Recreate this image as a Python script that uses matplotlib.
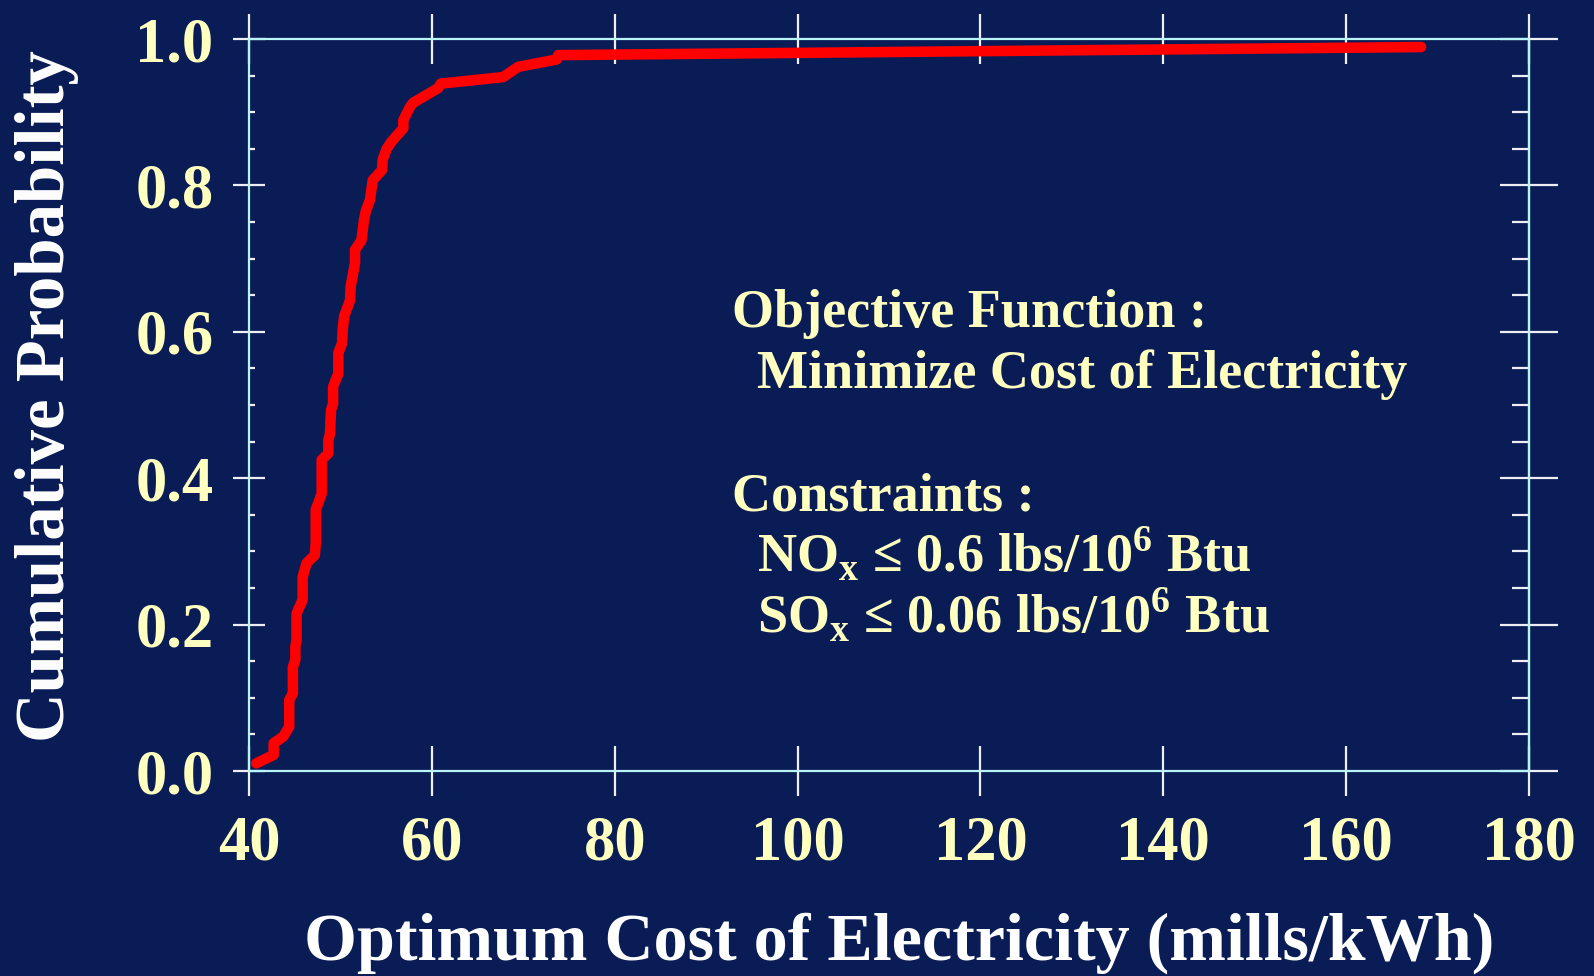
import matplotlib
matplotlib.use("Agg")
import matplotlib.pyplot as plt
from matplotlib.ticker import MultipleLocator

# CDF of optimum cost of electricity
cost = [40.8, 42.7, 42.7, 43.75, 44.4, 44.4, 44.8, 44.8, 45.07, 45.07, 45.2, 45.2,
        45.87, 45.87, 46.3, 47.2, 47.3, 47.3, 47.58, 47.95, 47.95, 48.68, 48.68,
        48.86, 48.97, 49.2, 49.2, 49.77, 49.77, 50.17, 50.25, 50.4, 51.05, 51.12,
        51.6, 51.6, 52.3, 52.58, 52.8, 53.23, 53.53, 53.9, 54.55, 54.62, 55.06,
        55.6, 56.88, 56.88, 57.6, 57.97, 60.7, 60.97, 67.8, 69.45, 73.65, 73.83,
        168.2]
prob = [0.0105, 0.022, 0.038, 0.047, 0.0605, 0.097, 0.106, 0.142, 0.152, 0.170,
        0.179, 0.215, 0.234, 0.265, 0.284, 0.295, 0.311, 0.357, 0.366, 0.379,
        0.425, 0.434, 0.452, 0.461, 0.493, 0.502, 0.525, 0.543, 0.571, 0.584,
        0.602, 0.621, 0.643, 0.662, 0.694, 0.712, 0.725, 0.753, 0.766, 0.780,
        0.807, 0.812, 0.821, 0.835, 0.850, 0.860, 0.878, 0.889, 0.907, 0.913,
        0.933, 0.939, 0.948, 0.962, 0.972, 0.978, 0.989]

x_ticks = [40, 60, 80, 100, 120, 140, 160, 180]
y_ticks = [0.0, 0.2, 0.4, 0.6, 0.8, 1.0]

BG = "#0a1c56"
CREAM = "#ffffc0"
SPINE = "#b8f4f8"
TICK = "#eeeef4"
FONT = "Liberation Serif"

plt.rcParams["font.family"] = FONT
plt.rcParams["font.weight"] = "bold"
plt.rcParams["mathtext.fontset"] = "custom"
plt.rcParams["mathtext.rm"] = "Liberation Serif:bold"
plt.rcParams["mathtext.bf"] = "Liberation Serif:bold"

W, H = 1594, 976
fig = plt.figure(figsize=(W / 100, H / 100), dpi=100, facecolor=BG)
ax = fig.add_axes([249 / W, 1 - 771 / H, 1280 / W, 732 / H], facecolor=BG)

ax.plot(cost, prob, color="#ff0000", lw=7.6, solid_capstyle="round",
        solid_joinstyle="round", zorder=3)

ax.set_xlim(40, 180)
ax.set_ylim(0, 1.0)
ax.set_xticks(x_ticks)
ax.set_yticks(y_ticks)
ax.set_xticklabels([str(v) for v in x_ticks])
ax.set_yticklabels([f"{v:.1f}" for v in y_ticks])
ax.yaxis.set_minor_locator(MultipleLocator(0.05))

for s in ax.spines.values():
    s.set_color(SPINE)
    s.set_linewidth(1.6)

ax.tick_params(axis="x", which="major", direction="inout", length=36, width=1.6,
               color=TICK, top=True, pad=14, labelsize=45, labelcolor=CREAM)
ax.tick_params(axis="y", which="major", direction="inout", length=23, width=1.6,
               color=TICK, right=False, pad=14, labelsize=45, labelcolor=CREAM)
ax.tick_params(axis="y", which="minor", direction="in", length=4.5, width=1.6,
               color=TICK, right=False)

# right-hand axis carries longer ticks than the left
sec = ax.secondary_yaxis("right")
sec.set_yticks(y_ticks)
sec.yaxis.set_minor_locator(MultipleLocator(0.05))
sec.tick_params(which="major", direction="inout", length=42, width=1.6,
                color=TICK, labelright=False)
sec.tick_params(which="minor", direction="in", length=12, width=1.6, color=TICK)
sec.spines["right"].set_color(SPINE)
sec.spines["right"].set_linewidth(1.6)

fig.text(64 / W, 1 - 396.5 / H, "Cumulative Probability", rotation=90,
         rotation_mode="anchor", ha="center", va="baseline", color="white",
         fontsize=49.5)
fig.text(899 / W, 16 / H, "Optimum Cost of Electricity (mills/kWh)",
         ha="center", va="baseline", color="white", fontsize=49)

lines = [
    (732, 327, "Objective Function :"),
    (757, 388, "Minimize Cost of Electricity"),
    (732, 510, "Constraints :"),
    (757, 572, r"NO$_{\mathrm{x}}$ ≤ 0.6 lbs/10$^{6}$ Btu"),
    (757, 633, r"SO$_{\mathrm{x}}$ ≤ 0.06 lbs/10$^{6}$ Btu"),
]
for px, py, txt in lines:
    fig.text(px / W, 1 - py / H, txt, ha="left", va="baseline", color=CREAM,
             fontsize=39)

fig.savefig("out.png", dpi=100, facecolor=BG)
